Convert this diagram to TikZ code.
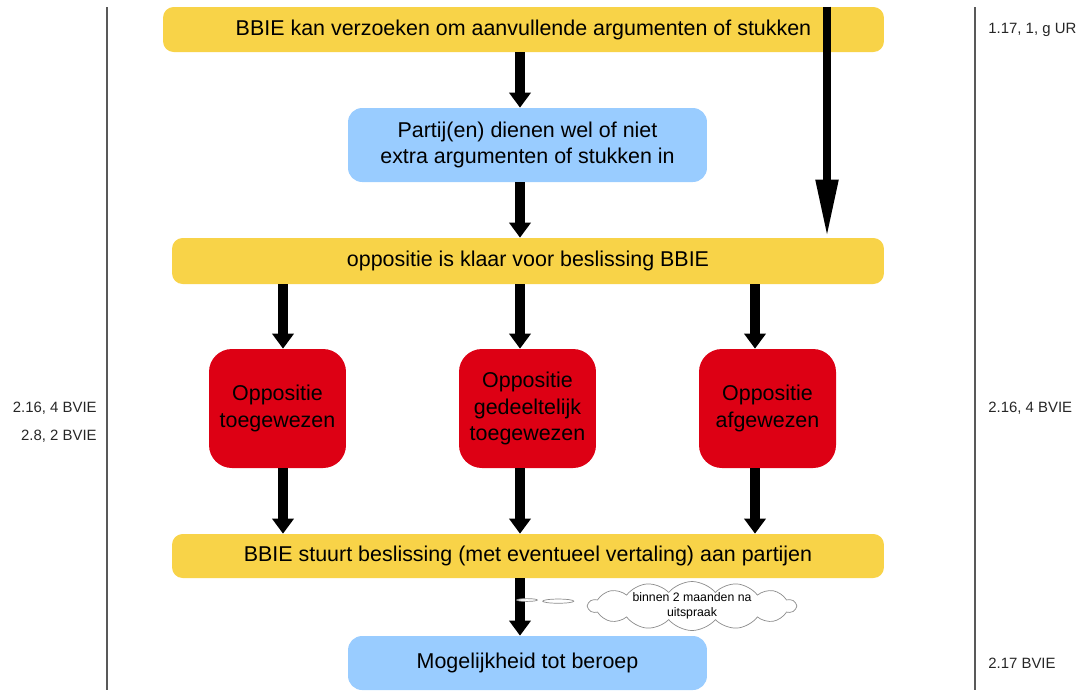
\documentclass[tikz,border=0pt]{standalone}
\usepackage{fontspec}
\setmainfont{Liberation Sans}
\usetikzlibrary{arrows.meta,shapes.symbols,shapes.callouts}
\definecolor{geel}{RGB}{248,211,72}
\definecolor{blauw}{RGB}{153,204,255}
\definecolor{rood}{RGB}{221,0,20}
\tikzset{
	stap/.style={inner sep=0pt, align=center, font=\fontsize{12.2}{14.5}\selectfont},
	geelbox/.style={stap, fill=geel, rounded corners=6pt, minimum height=0.9cm},
	blauwbox/.style={stap, fill=blauw, rounded corners=8pt, minimum width=7.18cm},
	roodbox/.style={stap, fill=rood, rounded corners=13pt, minimum width=2.74cm, minimum height=2.38cm, font=\fontsize{12.2}{15.3}\selectfont},
	pijl/.style={line width=0.2cm, -{Triangle[width=0.42cm,length=0.3cm]}},
	langepijl/.style={line width=0.16cm, -{Triangle[width=0.42cm,length=1.16cm]}},
	art/.style={inner sep=0pt, font=\fontsize{8.5}{13}\selectfont, text=black!85},
	kantlijn/.style={line width=1pt, black!65}
}
\begin{document}
\begin{tikzpicture}[x=0.02cm,y=-0.02cm]
	\useasboundingbox (0,0) rectangle (1084,691);
	\draw[kantlijn] (107,7) -- (107,690);
	\draw[kantlijn] (975,7) -- (975,690);
	\node[geelbox, minimum width=14.42cm] (verzoek) at (523.5,29.5) {BBIE kan verzoeken om aanvullende argumenten of stukken};
	\node[blauwbox, minimum height=1.48cm] (partij) at (527.5,145) {Partij(en) dienen wel of niet\\extra argumenten of stukken in};
	\node[geelbox, minimum width=14.24cm, minimum height=0.92cm] (klaar) at (528,261) {oppositie is klaar voor beslissing BBIE};
	\node[roodbox] (toe) at (277.5,408.5) {Oppositie\\toegewezen};
	\node[roodbox] (deels) at (527.5,408.5) {Oppositie\\gedeeltelijk\\toegewezen};
	\node[roodbox] (af) at (767.5,408.5) {Oppositie\\afgewezen};
	\node[geelbox, minimum width=14.24cm, minimum height=0.88cm] (stuurt) at (528,556) {BBIE stuurt beslissing (met eventueel vertaling) aan partijen};
	\node[blauwbox, minimum height=1.08cm] (beroep) at (527.5,663) {Mogelijkheid tot beroep};
	\coordinate (k1) at (283,0);
	\coordinate (k2) at (520,0);
	\coordinate (k3) at (755,0);
	\coordinate (k4) at (827,0);
	\coordinate (wijzer) at (527,600);
	\draw[pijl] (verzoek.south -| k2) -- (partij.north -| k2);
	\draw[pijl] (partij.south -| k2) -- (klaar.north -| k2);
	\draw[langepijl] (verzoek.north -| k4) -- (klaar.north -| k4);
	\foreach \k/\r in {k1/toe,k2/deels,k3/af} {
		\draw[pijl] (klaar.south -| \k) -- (\r.north -| \k);
		\draw[pijl] (\r.south -| \k) -- (stuurt.north -| \k);
	}
	\draw[pijl] (stuurt.south -| k2) -- (beroep.north -| k2);
	\node[cloud callout, draw=black!45, fill=white, cloud puffs=14, cloud puff arc=100, cloud ignores aspect, minimum width=4.15cm, minimum height=0.9cm, inner xsep=0pt, inner ysep=-1pt, align=center, font=\fontsize{7}{8.5}\selectfont, callout absolute pointer=(wijzer)] (termijn) at (692,606) {binnen 2 maanden na\\uitspraak};
	\node[art, anchor=west] (urtop) at (988,30) {1.17, 1, g UR};
	\node[art, anchor=west] (bvier) at (988,408) {2.16, 4 BVIE};
	\node[art, anchor=west] (bberoep) at (988,663) {2.17 BVIE};
	\node[art, anchor=east] (lvier) at (97,408) {2.16, 4 BVIE};
	\node[art, anchor=east] (ltwee) at (97,436) {2.8, 2 BVIE};
\end{tikzpicture}
\end{document}
